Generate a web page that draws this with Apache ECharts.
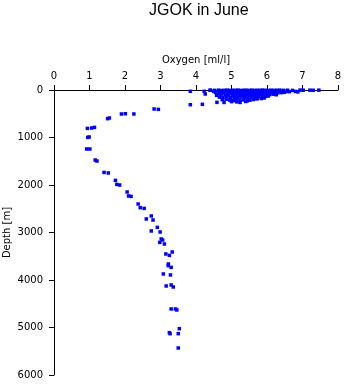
<!DOCTYPE html>
<html>
<head>
<meta charset="utf-8">
<script src="https://cdn.jsdelivr.net/npm/echarts@6/dist/echarts.min.js"></script>
<style>
html,body{margin:0;padding:0;background:#fff;}
#chart{width:345px;height:384px;}
</style>
</head>
<body>
<div id="chart"></div>
<script>
// Oxygen [ml/l] and depth [m] readings (surface cluster)
var surfaceOxygen = [
4.40,4.52,4.63,4.71,4.80,4.88,4.95,5.03,5.11,5.18,5.26,5.34,5.41,5.49,5.57,5.64,5.72,5.80,5.87,5.95,6.03,6.11,6.19,6.27,6.36,6.46,6.58,6.72,6.93,7.02,7.21,7.30,7.46,
4.50,4.66,4.77,4.86,4.97,5.07,5.16,5.25,5.33,5.44,5.53,5.61,5.70,5.79,5.88,5.97,6.06,6.15,6.24,6.33,6.44,6.55,6.63,6.80,6.87,
4.55,4.68,4.80,4.91,5.00,5.10,5.21,5.30,5.39,5.48,5.58,5.67,5.76,5.85,5.94,6.04,6.13,6.22,6.31,6.41,6.50,
4.60,4.72,4.84,4.93,5.05,5.14,5.23,5.33,5.42,5.51,5.60,5.69,5.78,5.88,5.98,6.08,6.18,6.26,
4.58,4.70,4.82,4.91,5.02,5.12,5.22,5.31,5.40,5.50,5.59,5.68,5.77,5.86,5.96,6.04,
4.66,4.76,4.87,4.98,5.08,5.18,5.27,5.37,5.46,5.55,5.65,5.74,5.84,5.92,
4.74,4.85,4.95,5.05,5.13,5.24,5.34,5.44,5.52,5.62,5.72,
4.59,4.79,5.24,5.00,5.40,5.15,
3.84,3.84,4.18,4.23,4.26,4.40
];
var surfaceDepth = [
5,8,4,10,6,3,9,5,7,2,10,6,4,8,3,9,5,7,2,6,10,4,8,5,3,7,4,8,2,5,4,6,3,
28,22,30,25,20,32,24,28,21,31,26,22,30,25,33,21,27,24,30,22,29,25,36,30,40,
52,48,55,45,58,50,46,56,49,54,47,57,51,45,55,49,58,52,60,55,48,
82,78,85,76,88,80,84,77,90,82,86,79,92,84,80,95,88,100,
112,120,108,118,125,110,122,115,128,112,124,118,130,121,135,126,
150,158,145,162,152,165,148,160,170,155,175,162,180,168,
205,195,212,225,200,218,208,230,215,200,188,
260,262,262,245,242,250,
27,309,301,27,84,6
];
// Deep profile
var deepOxygen = [
2.82,2.94,1.90,2.01,2.25,1.51,1.56,0.94,1.06,1.14,0.99,0.95,0.92,1.01,1.16,1.21,
1.41,1.53,1.73,1.77,1.85,2.06,2.10,2.17,2.37,2.43,2.54,2.74,2.60,2.79,2.91,2.74,2.99,
3.02,3.06,2.98,3.11,3.33,3.15,3.25,3.22,3.22,3.30,3.08,3.28,3.16,3.30,3.36,
3.30,3.42,3.46,3.53,3.25,3.27,3.50,3.50
];
var deepDepth = [
400,408,505,499,505,604,589,808,800,787,989,998,1242,1242,1474,1495,
1735,1747,1903,1987,2000,2147,2231,2240,2400,2478,2492,2652,2715,2737,2892,2968,2989,
3136,3158,3208,3242,3410,3452,3482,3663,3699,3734,3873,3894,4126,4105,4147,
4610,4610,4631,5025,5109,5130,5130,5431
];
var xTicks = {min: 0, max: 8, interval: 1};
var yTicks = {min: 0, max: 6000, interval: 1000};

function pairs(xs, ys){ var out=[]; for(var i=0;i<xs.length;i++){ out.push([xs[i], ys[i]]); } return out; }
var allData = pairs(surfaceOxygen, surfaceDepth).concat(pairs(deepOxygen, deepDepth));

var chart = echarts.init(document.getElementById('chart'), null, {renderer:'canvas'});
var font = 'Liberation Sans, Arial, sans-serif';
var lfont = 'DejaVu Sans, sans-serif';
chart.setOption({
  animation: false,
  backgroundColor: '#ffffff',
  title: {
    text: 'JGOK in June',
    left: 144, top: -2,
    textStyle: {fontFamily: font, fontSize: 16, fontWeight: 'normal', color: '#000'}
  },
  grid: {left: 54, top: 90, width: 284, height: 285, containLabel: false, outerBoundsMode: 'none'},
  xAxis: {
    type: 'value', position: 'top',
    min: xTicks.min, max: xTicks.max, interval: xTicks.interval,
    name: 'Oxygen [ml/l]', nameLocation: 'middle', nameGap: 25, nameMoveOverlap: false,
    nameTextStyle: {fontFamily: lfont, fontSize: 10, color: '#000'},
    axisLine: {show: true, onZero: false, lineStyle: {color: '#000', width: 1}},
    axisTick: {show: true, inside: false, length: 5, lineStyle: {color: '#000'}},
    axisLabel: {fontFamily: lfont, fontSize: 10, color: '#000', margin: 9},
    splitLine: {show: false}
  },
  yAxis: {
    type: 'value', inverse: true,
    min: yTicks.min, max: yTicks.max, interval: yTicks.interval,
    name: 'Depth [m]', nameLocation: 'middle', nameGap: 42, nameMoveOverlap: false,
    nameTextStyle: {fontFamily: lfont, fontSize: 10, color: '#000'},
    axisLine: {show: true, onZero: false, lineStyle: {color: '#000', width: 1}},
    axisTick: {show: true, inside: false, length: 5, lineStyle: {color: '#000'}},
    axisLabel: {fontFamily: lfont, fontSize: 10, color: '#000', margin: 11,
      formatter: function(v){ return String(v); }},
    splitLine: {show: false}
  },
  series: [{
    type: 'scatter',
    data: allData,
    symbol: 'rect',
    symbolSize: 3.5,
    itemStyle: {color: '#0000ff', opacity: 1},
    silent: true
  }]
});
</script>
</body>
</html>
